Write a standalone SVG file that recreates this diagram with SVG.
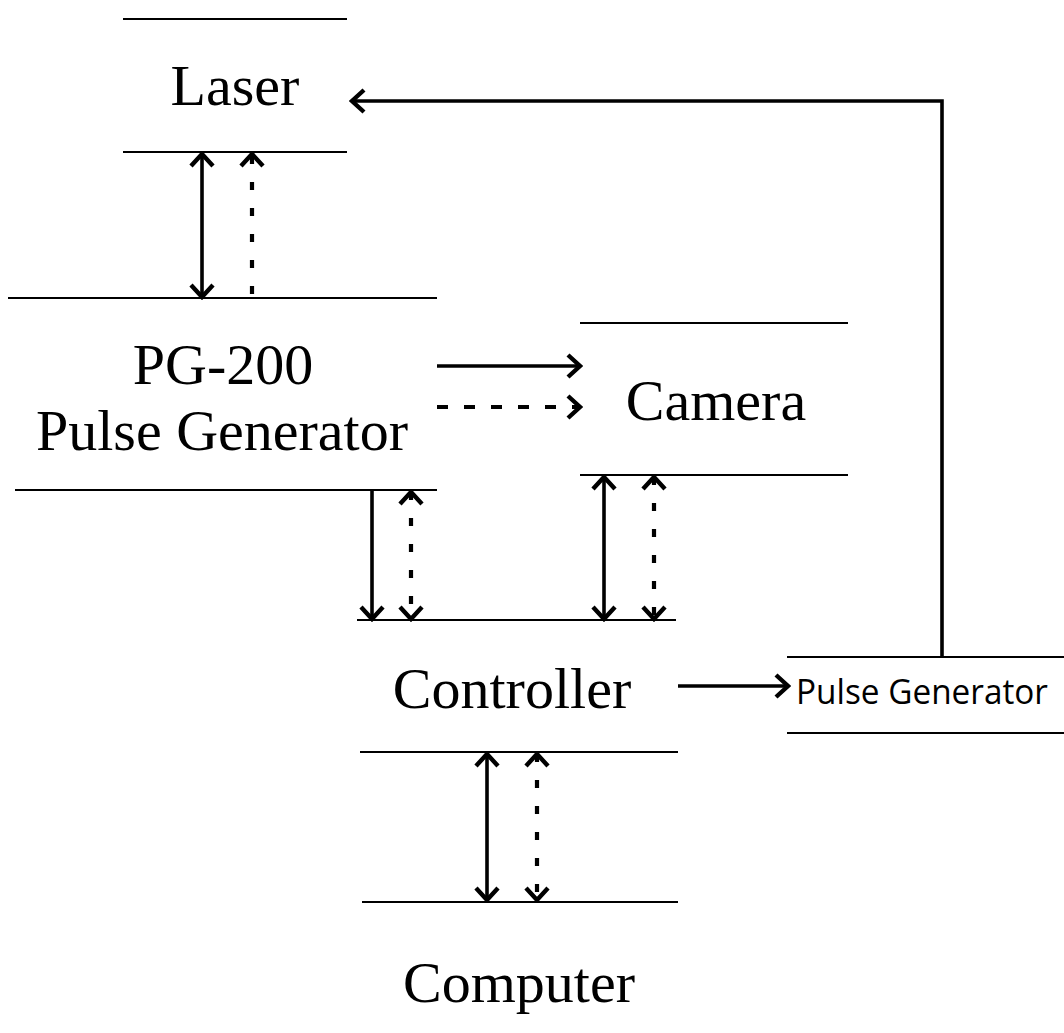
<svg xmlns="http://www.w3.org/2000/svg" width="1064" height="1033" viewBox="0 0 1064 1033">
<style>
.bar{stroke:#000;stroke-width:1.8;fill:none}
.lbl{font-family:"Liberation Serif","Times New Roman",serif;font-size:58px;fill:#000;text-anchor:middle}
.small{font-family:"Open Sans","DejaVu Sans",sans-serif;font-size:35px;fill:#000}
.c{stroke:#000;stroke-width:3.6;fill:none}
.d{stroke:#000;stroke-width:4.2;fill:none;stroke-dasharray:8 18}
.dh{stroke:#000;stroke-width:4.2;fill:none;stroke-dasharray:11 16}
</style>
<defs>
<marker id="ah" markerUnits="userSpaceOnUse" markerWidth="18" markerHeight="28" viewBox="0 0 18 28" refX="15" refY="14" orient="auto-start-reverse">
<path d="M3,3 L15,14 L3,25" fill="none" stroke="#000" stroke-width="4.4"/>
</marker>
</defs>
<rect width="1064" height="1033" fill="#fff"/>
<g id="laser">
<line class="bar" x1="123" y1="19" x2="347" y2="19"/>
<line class="bar" x1="123" y1="152" x2="347" y2="152"/>
<text class="lbl" x="235" y="105" font-size="56">Laser</text>
</g>
<g id="pg200">
<line class="bar" x1="8" y1="298" x2="437" y2="298"/>
<line class="bar" x1="15" y1="490" x2="437" y2="490"/>
<text class="lbl" x="223" y="384">PG-200</text>
<text class="lbl" x="222" y="450">Pulse Generator</text>
</g>
<g id="camera">
<line class="bar" x1="580" y1="323" x2="848" y2="323"/>
<line class="bar" x1="580" y1="475" x2="848" y2="475"/>
<text class="lbl" x="716" y="420">Camera</text>
</g>
<g id="controller">
<line class="bar" x1="357" y1="620" x2="676" y2="620"/>
<line class="bar" x1="360" y1="752" x2="678" y2="752"/>
<text class="lbl" x="512" y="708">Controller</text>
</g>
<g id="pulsegen">
<line class="bar" x1="787" y1="657" x2="1064" y2="657"/>
<line class="bar" x1="787" y1="733" x2="1064" y2="733"/>
<text class="small" x="796" y="704" textLength="252" lengthAdjust="spacingAndGlyphs">Pulse Generator</text>
</g>
<g id="computer">
<line class="bar" x1="362" y1="902" x2="678" y2="902"/>
<text class="lbl" x="519" y="1002">Computer</text>
</g>
<g id="connectors">
<path class="c" d="M942,657 V101 H352" marker-end="url(#ah)"/>
<line class="c" x1="202" y1="154" x2="202" y2="297" marker-start="url(#ah)" marker-end="url(#ah)"/>
<line class="d" x1="252" y1="294" x2="252" y2="154" marker-end="url(#ah)"/>
<line class="c" x1="437" y1="366" x2="580" y2="366" marker-end="url(#ah)"/>
<line class="dh" x1="437" y1="407" x2="580" y2="407" marker-end="url(#ah)"/>
<line class="c" x1="372" y1="490" x2="372" y2="619" marker-end="url(#ah)"/>
<line class="d" x1="411" y1="492" x2="411" y2="619" marker-start="url(#ah)" marker-end="url(#ah)"/>
<line class="c" x1="604" y1="477" x2="604" y2="619" marker-start="url(#ah)" marker-end="url(#ah)"/>
<line class="d" x1="654" y1="477" x2="654" y2="619" marker-start="url(#ah)" marker-end="url(#ah)"/>
<line class="c" x1="678" y1="686" x2="788" y2="686" marker-end="url(#ah)"/>
<line class="c" x1="487" y1="754" x2="487" y2="900" marker-start="url(#ah)" marker-end="url(#ah)"/>
<line class="d" x1="537" y1="754" x2="537" y2="900" marker-start="url(#ah)" marker-end="url(#ah)"/>
</g>
</svg>
